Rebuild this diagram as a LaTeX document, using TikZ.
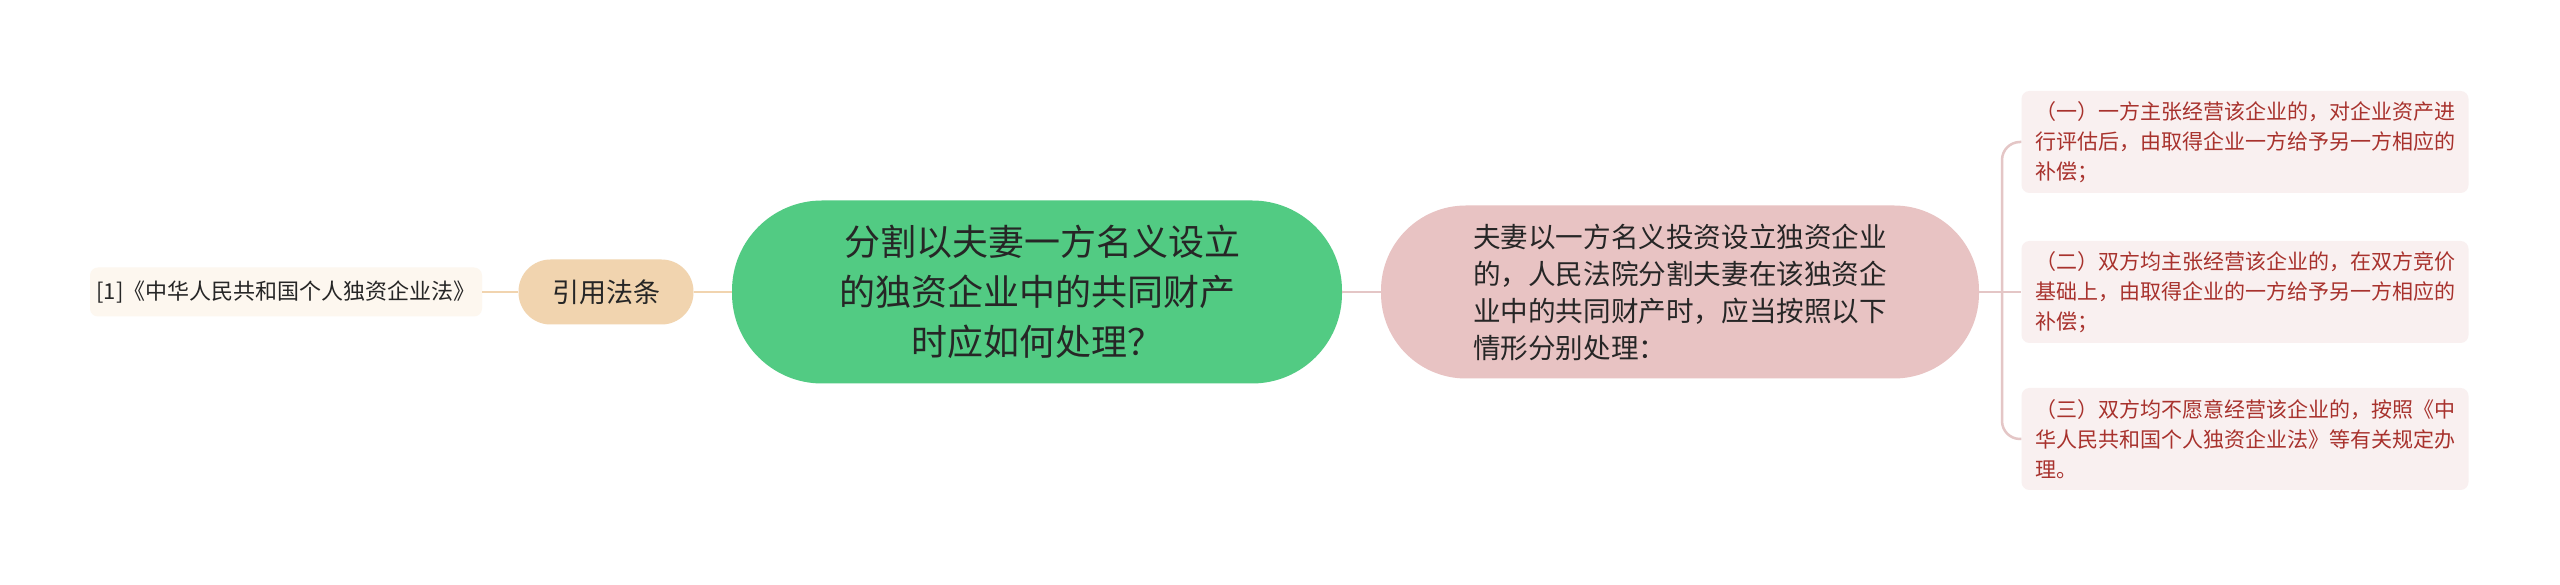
\documentclass[tikz,border=0pt]{standalone}
\usepackage{fontspec}
\setmainfont{Noto Sans CJK SC}
\definecolor{topicgreen}{HTML}{52CB83}
\definecolor{rulepink}{HTML}{E8C3C3}
\definecolor{lawtan}{HTML}{F1D4AF}
\definecolor{refbg}{HTML}{FDF7EF}
\definecolor{leafbg}{HTML}{F9F0F0}
\definecolor{leafred}{HTML}{A8322D}
\definecolor{leafline}{HTML}{E4C6C6}
\definecolor{inkdark}{HTML}{262626}
\begin{document}
\begin{tikzpicture}[x=1pt,y=1pt,
  box/.style={inner sep=0pt,align=center,text=inkdark},
  topic/.style={box,fill=topicgreen,minimum width=610,minimum height=183,rounded corners=90,font=\fontsize{36}{50}\selectfont},
  rule/.style={box,fill=rulepink,minimum width=598,minimum height=173,rounded corners=85,align=left,font=\fontsize{27.6}{37}\selectfont},
  law/.style={box,fill=lawtan,minimum width=175,minimum height=65,rounded corners=32,font=\fontsize{27}{34}\selectfont},
  refbox/.style={box,fill=refbg,minimum width=392,minimum height=49,rounded corners=8,font=\fontsize{22}{28}\selectfont},
  leaf/.style={box,fill=leafbg,minimum width=447,minimum height=102,rounded corners=8,align=left,text=leafred,font=\fontsize{21}{30}\selectfont},
  lawlink/.style={draw=lawtan,line width=2.5pt},
  rulelink/.style={draw=leafline,line width=2.5pt}]
\useasboundingbox[fill=white] (0,0) rectangle (2560,585);

\node[topic] (topic) at (1037,293) {\hspace*{.3em}分割以夫妻一方名义设立\\的独资企业中的共同财产\\时应如何处理？};
\node[law] (law) at (606,293) {引用法条};
\node[refbox] (ref) at (286,293) {[1]《中华人民共和国个人独资企业法》};
\node[rule] (rule) at (1680,293) {夫妻以一方名义投资设立独资企业\\的，人民法院分割夫妻在该独资企\\业中的共同财产时，应当按照以下\\情形分别处理：};

\node[leaf] (leaf1) at (2245,443) {（一）一方主张经营该企业的，对企业资产进\\行评估后，由取得企业一方给予另一方相应的\\补偿；};
\node[leaf] (leaf2) at (2245,293) {（二）双方均主张经营该企业的，在双方竞价\\基础上，由取得企业的一方给予另一方相应的\\补偿；};
\node[leaf] (leaf3) at (2245,146) {（三）双方均不愿意经营该企业的，按照《中\\华人民共和国个人独资企业法》等有关规定办\\理。};

\coordinate (fork) at (2002,293);
\draw[lawlink] (topic.west) -- (law.east);
\draw[lawlink] (law.west) -- (ref.east);
\draw[rulelink] (topic.east) -- (rule.west);
\draw[rulelink] (rule.east) -- (leaf2.west);
\draw[rulelink,rounded corners=18] (fork) |- (leaf1.west);
\draw[rulelink,rounded corners=18] (fork) |- (leaf3.west);
\end{tikzpicture}
\end{document}
